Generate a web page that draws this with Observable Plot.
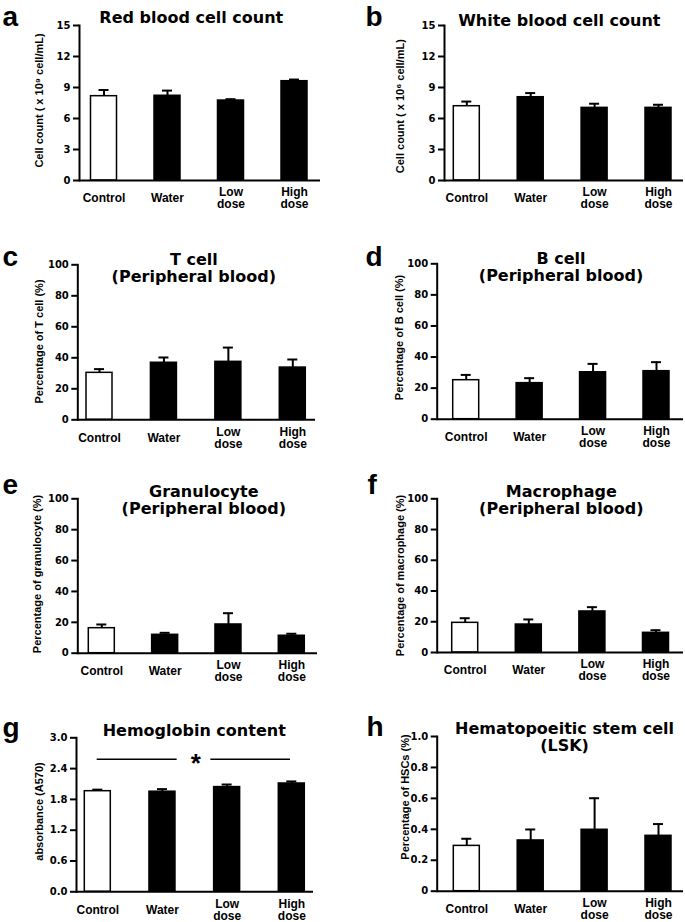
<!DOCTYPE html>
<html><head><meta charset="utf-8">
<script src="https://cdn.jsdelivr.net/npm/d3@7"></script>
<script src="https://cdn.jsdelivr.net/npm/@observablehq/plot@0.6"></script>
<style>
body{margin:0;background:#fff}
#fig{position:relative;width:685px;height:922px;background:#fff;overflow:hidden}
#fig svg{position:absolute;overflow:visible;background:transparent}
</style></head><body><div id="fig"></div>
<script>
// ---------- data ----------
const categories = ["Control", "Water", "Low dose", "High dose"];
const categoryLabels = ["Control", "Water", "Low\ndose", "High\ndose"];

const rbcMean = [8.16, 8.2, 7.74, 9.61];
const rbcSem = [0.6, 0.5, 0.13, 0.16];
const wbcMean = [7.19, 8.06, 7.03, 7.03];
const wbcSem = [0.45, 0.4, 0.4, 0.3];
const tCellMean = [30.3, 36.8, 37.4, 33.7];
const tCellSem = [2.4, 3.4, 9.2, 5.2];
const bCellMean = [25.1, 23.2, 30.2, 30.9];
const bCellSem = [3.4, 3.2, 5.4, 5.8];
const granMean = [16.2, 11.9, 18.6, 11.3];
const granSem = [2.4, 1.3, 7.3, 1.3];
const macroMean = [19.3, 18.2, 26.7, 12.8];
const macroSem = [3.0, 3.3, 2.8, 1.7];
const hbMean = [1.96, 1.95, 2.04, 2.11];
const hbSem = [0.03, 0.05, 0.05, 0.04];
const hscMean = [0.293, 0.328, 0.397, 0.358];
const hscSem = [0.046, 0.071, 0.204, 0.076];

const panelLetters = ["a", "b", "c", "d", "e", "f", "g", "h"];
const panelTitles = [
  "Red blood cell count",
  "White blood cell count",
  "T cell\n(Peripheral blood)",
  "B cell\n(Peripheral blood)",
  "Granulocyte\n(Peripheral blood)",
  "Macrophage\n(Peripheral blood)",
  "Hemoglobin content",
  "Hematopoeitic stem cell\n(LSK)"
];
const yLabels = [
  "Cell count ( x 10\u2079 cell/mL)",
  "Cell count ( x 10\u2076 cell/mL)",
  "Percentage of T cell (%)",
  "Percentage of B cell (%)",
  "Percentage of granulocyte (%)",
  "Percentage of macrophage (%)",
  "absorbance (A570)",
  "Percentage of HSCs (%)"
];
const yTicks = [
  [0, 3, 6, 9, 12, 15],
  [0, 3, 6, 9, 12, 15],
  [0, 20, 40, 60, 80, 100],
  [0, 20, 40, 60, 80, 100],
  [0, 20, 40, 60, 80, 100],
  [0, 20, 40, 60, 80, 100],
  [0, 0.6, 1.2, 1.8, 2.4, 3.0],
  [0, 0.2, 0.4, 0.6, 0.8, 1.0]
];
const sigFrom = ["Control", "Low dose"];
const sigTo = ["Water", "High dose"];
const sigLevel = 2.58;
const sigMark = "*";

const means = [rbcMean, wbcMean, tCellMean, bCellMean, granMean, macroMean, hbMean, hscMean];
const sems = [rbcSem, wbcSem, tCellSem, bCellSem, granSem, macroSem, hbSem, hscSem];
const formats = [
  d => String(d), d => String(d), d => String(d), d => String(d),
  d => String(d), d => String(d),
  d => d.toFixed(1),
  d => (d === 0 ? "0" : d.toFixed(1))
];

// ---------- layout (page pixels) ----------
const layout = [
  {left: 0, top: 0, w: 340, h: 220, axisX: 79, xEnd: 320, first: 103.5, last: 294, yTop: 25, yBot: 180, letter: [2, 25], title: [190.8, 22], ylab: [39, 100]},
  {left: 340, top: 0, w: 345, h: 220, axisX: 444, xEnd: 683, first: 466.3, last: 658, yTop: 25, yBot: 180, letter: [365, 25], title: [558.8, 25], ylab: [400, 105.7]},
  {left: 0, top: 220, w: 340, h: 230, axisX: 77.3, xEnd: 315, first: 99, last: 292.3, yTop: 264.3, yBot: 419.3, letter: [2, 265], title: [193.3, 281], ylab: [39, 341]},
  {left: 340, top: 220, w: 345, h: 230, axisX: 436.7, xEnd: 683, first: 465.7, last: 656, yTop: 263.3, yBot: 418.7, letter: [365, 265], title: [560.5, 280], ylab: [399, 337]},
  {left: 0, top: 450, w: 340, h: 230, axisX: 77.3, xEnd: 317, first: 101.3, last: 291.3, yTop: 498.3, yBot: 652.7, letter: [2, 493], title: [203.3, 513], ylab: [36.7, 573.5]},
  {left: 340, top: 450, w: 345, h: 230, axisX: 436.7, xEnd: 683, first: 464.7, last: 655.5, yTop: 498.3, yBot: 652, letter: [367, 493], title: [560.8, 513], ylab: [400, 575]},
  {left: 0, top: 680, w: 340, h: 242, axisX: 76, xEnd: 313, first: 97.3, last: 291.3, yTop: 737.3, yBot: 891.3, letter: [2, 736], title: [193.7, 735], ylab: [39, 811]},
  {left: 340, top: 680, w: 345, h: 242, axisX: 436.7, xEnd: 683, first: 466.3, last: 658, yTop: 736, yBot: 890.7, letter: [366, 735], title: [564, 750], ylab: [405, 796.5]}
];
const barWidth = 26;
const fig = document.getElementById("fig");

function panel(i) {
  const L = layout[i];
  const data = categories.map((c, j) => ({cat: c, label: categoryLabels[j], mean: means[i][j], top: means[i][j] + sems[i][j]}));
  const s = (L.last - L.first) / 3;
  const pi = 1 - barWidth / s;
  const ml = L.axisX - L.left, mr = L.left + L.w - L.xEnd, mt = L.yTop - L.top, mb = L.top + L.h - L.yBot;
  const ticks = yTicks[i];
  const yMax = ticks[ticks.length - 1];
  const marks = [
    Plot.barY(data, {x: "cat", y: "mean", fill: d => (d.cat === categories[0] ? "white" : "black"), stroke: "black", strokeWidth: 1.5}),
    Plot.ruleX(data, {x: "cat", y1: "mean", y2: "top", strokeWidth: 2}),
    Plot.tickY(data, {x: "cat", y: "top", strokeWidth: 2, insetLeft: 8, insetRight: 8}),
    Plot.ruleY([0], {strokeWidth: 2}),
    Plot.frame({anchor: "left", strokeWidth: 2}),
    Plot.axisY({ticks, tickFormat: formats[i], tickSize: 6, tickPadding: 3, strokeWidth: 2, fontFamily: "DejaVu Sans", fontWeight: "bold", fontSize: 10, label: null}),
    Plot.text(data, {x: "cat", text: "label", frameAnchor: "bottom", dy: 18, lineAnchor: "middle", lineHeight: 1, fontFamily: "Liberation Sans", fontWeight: "bold", fontSize: 12}),
    Plot.text([panelTitles[i]], {frameAnchor: "top-left", dx: L.title[0] - L.axisX, dy: L.title[1] - L.yTop, textAnchor: "middle", lineAnchor: "bottom", lineHeight: 1.02, fontFamily: "DejaVu Sans", fontWeight: "bold", fontSize: 16}),
    Plot.text([yLabels[i]], {frameAnchor: "top-left", dx: L.ylab[0] - L.axisX, dy: L.ylab[1] - L.yTop, rotate: -90, textAnchor: "middle", lineAnchor: "middle", fontFamily: "Liberation Sans", fontWeight: "bold", fontSize: 11}),
    Plot.text([panelLetters[i]], {frameAnchor: "top-left", dx: L.letter[0] - L.axisX, dy: L.letter[1] - L.yTop, textAnchor: "start", lineAnchor: "bottom", fontFamily: "Liberation Sans", fontWeight: "bold", fontSize: 28})
  ];
  if (i === 6) {
    marks.push(
      Plot.ruleY([{from: sigFrom[0], to: sigTo[0], y: sigLevel}], {x1: "from", x2: "to", y: "y", strokeWidth: 1.5, insetLeft: 12.4, insetRight: -1.7}),
      Plot.ruleY([{from: sigFrom[1], to: sigTo[1], y: sigLevel}], {x1: "from", x2: "to", y: "y", strokeWidth: 1.5, insetLeft: -3.3, insetRight: 14.3}),
      Plot.text([{at: sigTo[0], y: sigLevel}], {x: "at", y: "y", text: () => sigMark, dx: s / 2 + 1, dy: 13, lineAnchor: "bottom", fontFamily: "Liberation Sans", fontWeight: "bold", fontSize: 26})
    );
  }
  const chart = Plot.plot({
    width: L.w, height: L.h,
    marginLeft: ml, marginRight: mr, marginTop: mt, marginBottom: mb,
    style: {fontFamily: "DejaVu Sans", color: "black", background: "transparent", overflow: "visible"},
    x: {type: "band", domain: categories, range: [L.first - L.left - s / 2, L.last - L.left + s / 2], paddingInner: pi, paddingOuter: pi / 2, round: false, axis: null},
    y: {domain: [0, yMax], axis: null},
    marks
  });
  chart.style.left = L.left + "px";
  chart.style.top = L.top + "px";
  fig.appendChild(chart);
}
for (let i = 0; i < 8; ++i) panel(i);
</script></body></html>
